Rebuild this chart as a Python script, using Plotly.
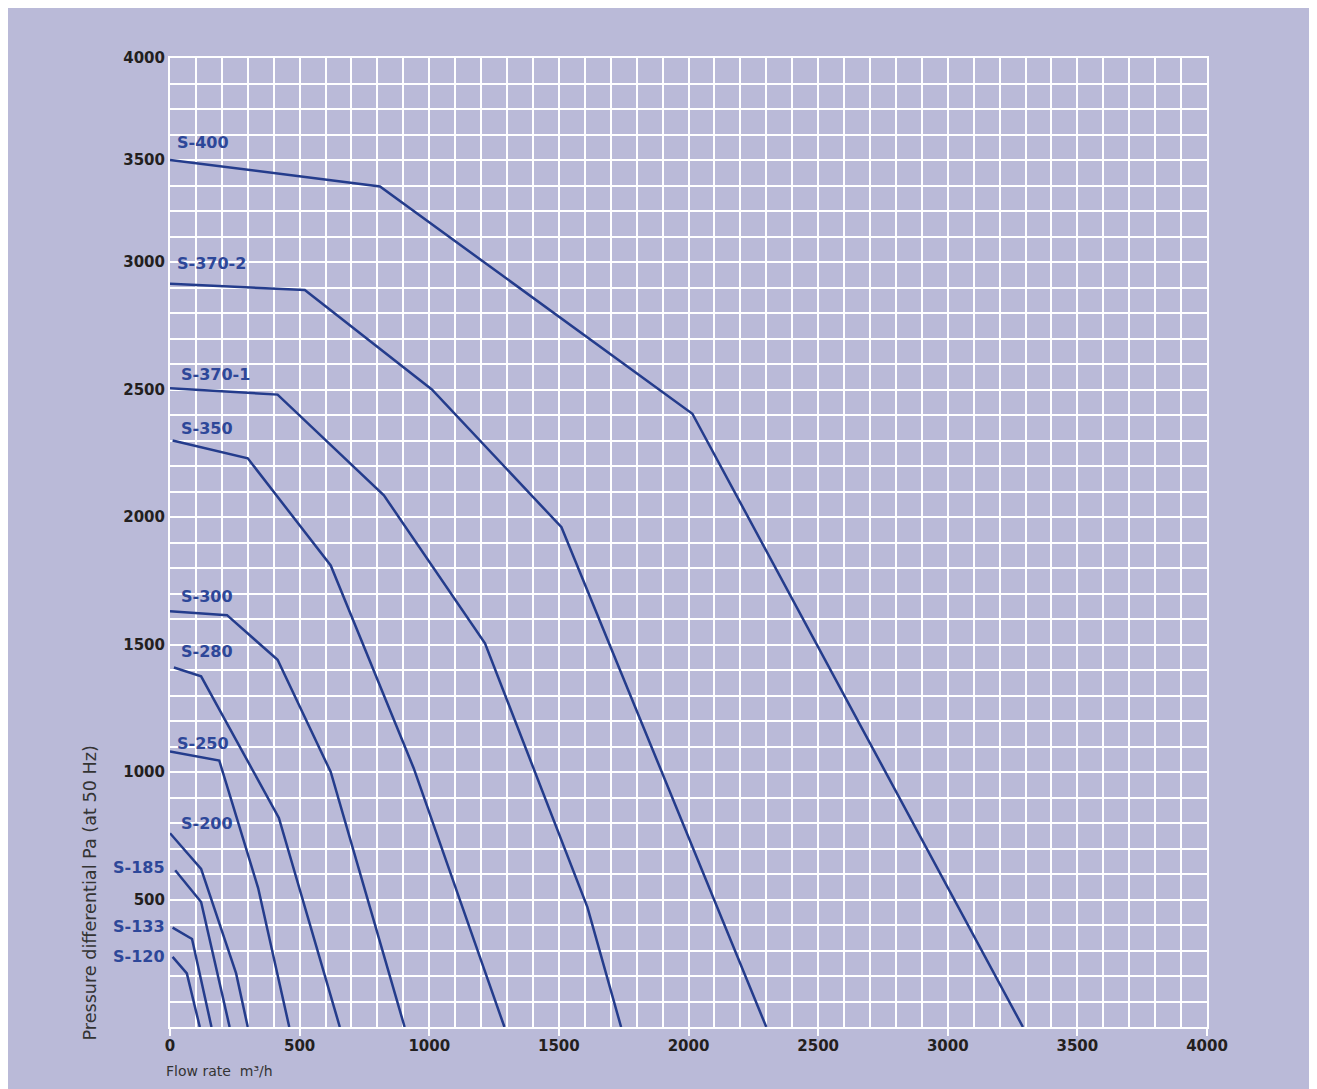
import plotly.graph_objects as go

# ---------------- data ----------------
flow_ticks = [0, 500, 1000, 1500, 2000, 2500, 3000, 3500, 4000]
pressure_ticks = [500, 1000, 1500, 2000, 2500, 3000, 3500, 4000]

names = ["S-400", "S-370-2", "S-370-1", "S-350", "S-300", "S-280",
         "S-250", "S-200", "S-185", "S-133", "S-120"]

s400_flow = [0, 810, 2015, 3290]
s400_pa = [3500, 3370, 2405, 0]

s370_2_flow = [0, 520, 1010, 1510, 2300]
s370_2_pa = [2915, 2890, 2500, 1960, 0]

s370_1_flow = [0, 415, 825, 1215, 1610, 1740]
s370_1_pa = [2505, 2480, 2085, 1505, 470, 0]

s350_flow = [10, 300, 620, 940, 1290]
s350_pa = [2300, 2230, 1810, 1015, 0]

s300_flow = [0, 220, 415, 620, 905]
s300_pa = [1630, 1615, 1440, 1000, 0]

s280_flow = [15, 120, 420, 655]
s280_pa = [1410, 1375, 820, 0]

s250_flow = [0, 190, 340, 460]
s250_pa = [1080, 1045, 545, 0]

s200_flow = [0, 120, 255, 300]
s200_pa = [760, 620, 210, 0]

s185_flow = [20, 120, 230]
s185_pa = [615, 490, 0]

s133_flow = [10, 85, 160]
s133_pa = [390, 345, 0]

s120_flow = [10, 65, 115]
s120_pa = [275, 210, 0]

flows = [s400_flow, s370_2_flow, s370_1_flow, s350_flow, s300_flow, s280_flow,
         s250_flow, s200_flow, s185_flow, s133_flow, s120_flow]
pressures = [s400_pa, s370_2_pa, s370_1_pa, s350_pa, s300_pa, s280_pa,
             s250_pa, s200_pa, s185_pa, s133_pa, s120_pa]


# The printed chart uses 100 Pa per grid row up to 3000 Pa and
# 125 Pa per grid row above (3000-4000 Pa spans 8 rows).
def to_axis(p):
    return p if p <= 3000 else 3000 + (p - 3000) * 0.8


# ---------------- styling ----------------
BG = "#BABAD8"
LINE = "#243C8C"
LABEL = "#2D4799"
TICK = "#231F20"
FONT = "DejaVu Sans"

fig = go.Figure()
for name, fx, py in zip(names, flows, pressures):
    fig.add_trace(go.Scatter(
        x=fx, y=[to_axis(v) for v in py], mode="lines", name=name,
        line=dict(color=LINE, width=2.5), showlegend=False,
    ))

# curve labels (left edge in flow units, centre in Pa) — layout positions
inside_labels = {
    "S-400": (20, 3586), "S-370-2": (20, 2996), "S-370-1": (34, 2560),
    "S-350": (34, 2349), "S-300": (34, 1688), "S-280": (34, 1472),
    "S-250": (18, 1112), "S-200": (33, 798),
}
outside_labels = {"S-185": 626, "S-133": 396, "S-120": 277}

annotations = []
for name in names:
    if name in inside_labels:
        lx, ly = inside_labels[name]
        annotations.append(dict(
            x=lx, y=to_axis(ly), xref="x", yref="y", text="<b>%s</b>" % name,
            showarrow=False, xanchor="left", yanchor="middle",
            font=dict(family=FONT, size=16, color=LABEL)))
    else:
        ly = outside_labels[name]
        annotations.append(dict(
            x=0, y=to_axis(ly), xref="x", yref="y", text="<b>%s</b>" % name,
            showarrow=False, xanchor="right", yanchor="middle", xshift=-3,
            font=dict(family=FONT, size=16, color=LABEL)))

annotations.append(dict(
    x=-0.0767, y=-0.016, xref="paper", yref="paper",
    text="Pressure differential Pa (at 50 Hz)", textangle=-90,
    showarrow=False, xanchor="center", yanchor="bottom",
    font=dict(family=FONT, size=17.6, color="#333333")))
annotations.append(dict(
    x=-0.006, y=-0.045, xref="paper", yref="paper",
    text="Flow rate\u00a0 m³/h", showarrow=False,
    xanchor="left", yanchor="middle",
    font=dict(family=FONT, size=14, color="#333333")))

fig.update_layout(
    width=1317, height=1089,
    paper_bgcolor=BG, plot_bgcolor=BG,
    margin=dict(l=162, r=118, t=50, b=70),
    annotations=annotations,
    showlegend=False,
)

fig.update_xaxes(
    range=[0, 4000], tickmode="array", tickvals=flow_ticks,
    ticktext=[str(v) for v in flow_ticks],
    tickfont=dict(family=FONT, size=15, color=TICK, weight="bold"),
    ticks="outside", ticklen=7, tickwidth=2, tickcolor="white",
    ticklabelstandoff=-3,
    showgrid=True, gridcolor="white", gridwidth=1.5,
    minor=dict(tickmode="linear", tick0=0, dtick=100, showgrid=True,
               gridcolor="white", gridwidth=1.5, ticks=""),
    showline=True, linecolor="white", linewidth=2, mirror=True,
    zeroline=False, fixedrange=True,
)
fig.update_yaxes(
    range=[0, to_axis(4000)], tickmode="array",
    tickvals=[to_axis(v) for v in pressure_ticks],
    ticktext=[str(v) for v in pressure_ticks],
    tickfont=dict(family=FONT, size=15, color=TICK, weight="bold"),
    ticks="", ticklabelstandoff=0,
    showgrid=True, gridcolor="white", gridwidth=1.5,
    minor=dict(tickmode="linear", tick0=0, dtick=100, showgrid=True,
               gridcolor="white", gridwidth=1.5, ticks=""),
    showline=True, linecolor="white", linewidth=2, mirror=True,
    zeroline=False, fixedrange=True,
)

fig.write_html("out.html")
